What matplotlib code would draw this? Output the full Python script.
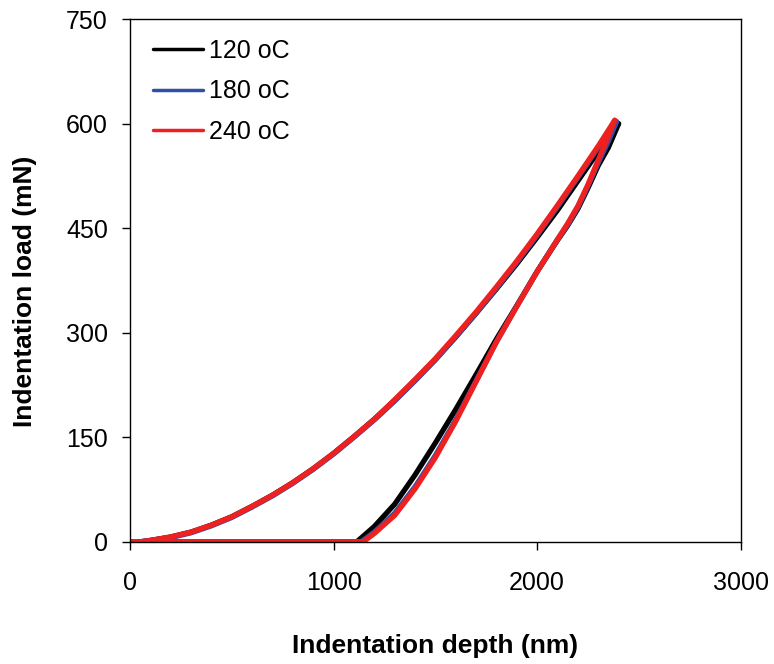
import matplotlib
matplotlib.use("Agg")
import matplotlib.pyplot as plt

plt.rcParams["font.family"] = ["Liberation Sans", "DejaVu Sans"]

# loading branch (depth nm, load mN)
load_depth_120 = [0, 50, 100, 200, 300, 400, 500, 600, 700, 800, 900, 1000, 1100, 1200, 1300, 1400,
                  1500, 1600, 1700, 1800, 1900, 2000, 2100, 2200, 2300, 2400]
load_force_120 = [0, 0, 2, 7, 14, 24, 36, 51, 67, 85, 105, 127, 151, 176, 203, 232,
                  262, 294, 328, 363, 399, 437, 476, 518, 560, 600]
load_depth_180 = [0, 50, 100, 200, 300, 400, 500, 600, 700, 800, 900, 1000, 1100, 1200, 1300, 1400,
                  1500, 1600, 1700, 1800, 1900, 2000, 2100, 2200, 2300, 2390]
load_force_180 = [0, 0, 2, 6, 13, 23, 35, 50, 66, 84, 104, 126, 150, 175, 202, 231,
                  261, 294, 328, 364, 401, 440, 481, 523, 566, 603]
load_depth_240 = [0, 50, 100, 200, 300, 400, 500, 600, 700, 800, 900, 1000, 1100, 1200, 1300, 1400,
                  1500, 1600, 1700, 1800, 1900, 2000, 2100, 2200, 2300, 2381]
load_force_240 = [0, 0, 2, 7, 14, 24, 36, 51, 67, 85, 105, 127, 151, 176, 204, 233,
                  263, 296, 330, 366, 403, 442, 483, 525, 568, 605]

# unloading branch, ending with the retraction along zero load
unload_depth_120 = [2400, 2350, 2300, 2250, 2200, 2150, 2100, 2000, 1900, 1800, 1700, 1600, 1500,
                    1400, 1300, 1200, 1114, 0]
unload_force_120 = [600, 566, 540, 508, 478, 454, 433, 388, 339, 291, 240, 190, 142,
                    96, 54, 22, 0, 0]
unload_depth_180 = [2390, 2350, 2300, 2250, 2200, 2150, 2100, 2000, 1900, 1800, 1700, 1600, 1500,
                    1400, 1300, 1200, 1135, 0]
unload_force_180 = [603, 575, 544, 511, 480, 455, 434, 388, 338, 287, 231, 175, 124,
                    79, 41, 14, 0, 0]
unload_depth_240 = [2381, 2340, 2300, 2250, 2200, 2150, 2100, 2000, 1900, 1800, 1700, 1600, 1500,
                    1400, 1300, 1200, 1145, 0]
unload_force_240 = [605, 575, 548, 513, 482, 457, 434, 388, 338, 287, 230, 173, 121,
                    76, 38, 12, 0, 0]

SERIES = [
    ("120 oC", "black", load_depth_120, load_force_120, unload_depth_120, unload_force_120),
    ("180 oC", "#3050a8", load_depth_180, load_force_180, unload_depth_180, unload_force_180),
    ("240 oC", "#ee2020", load_depth_240, load_force_240, unload_depth_240, unload_force_240),
]

fig = plt.figure(figsize=(7.74, 6.64), dpi=100)
ax = fig.add_axes([0.168, 0.184, 0.789, 0.787])

for label, color, ld, lf, ud, uf in SERIES:
    ax.plot(ld, lf, color=color, lw=3.8, label=label, solid_capstyle="round", solid_joinstyle="round")
    ax.plot(ud, uf, color=color, lw=3.8, solid_capstyle="round", solid_joinstyle="round")

ax.set_xlim(0, 3000)
ax.set_ylim(0, 750)
ax.set_xticks([0, 1000, 2000, 3000])
ax.set_yticks([0, 150, 300, 450, 600, 750])
ax.tick_params(direction="out", length=6, width=1, labelsize=18)
ax.tick_params(axis="x", pad=15)
ax.tick_params(axis="y", pad=10)
for s in ax.spines.values():
    s.set_linewidth(1)

ax.set_xlabel("Indentation depth (nm)", fontsize=19, fontweight="bold", va="center")
ax.set_ylabel("Indentation load (mN)", fontsize=19, fontweight="bold", va="center")
ax.xaxis.set_label_coords(0.5, -0.199)
ax.yaxis.set_label_coords(-0.172, 0.48)

leg = ax.legend(loc="upper left", frameon=False, fontsize=18, handlelength=2.0,
                handletextpad=0.25, labelspacing=0.65, borderaxespad=0.0,
                bbox_to_anchor=(0.021, 0.981))
for h in leg.get_lines():
    h.set_linewidth(2.5)

fig.savefig("out.png", dpi=100)
